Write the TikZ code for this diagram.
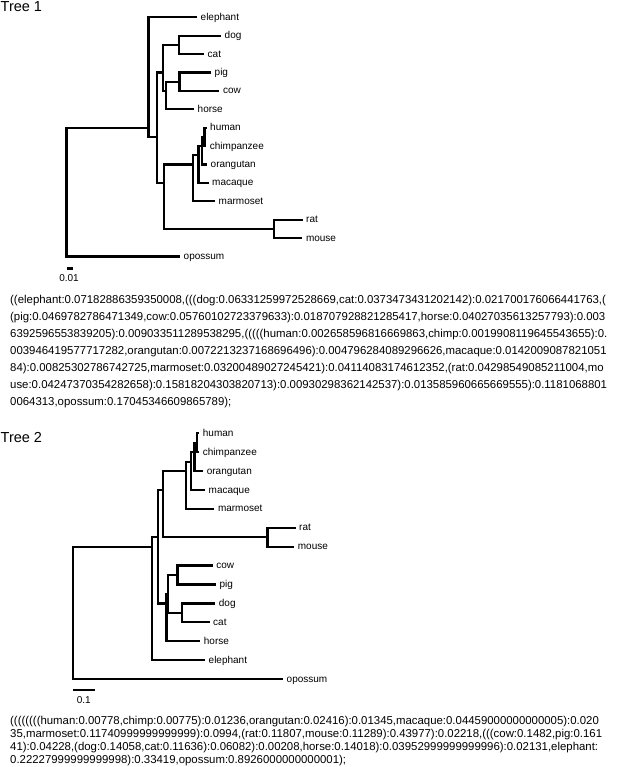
\documentclass[tikz,border=0pt]{standalone}
\usepackage{fontspec}
\setmainfont{Liberation Sans}
\begin{document}
\begin{tikzpicture}[x=1pt,y=-1pt,
  br/.style={line width=2.3pt, line join=miter},
  lab/.style={anchor=base west, inner sep=0pt, xshift=3.5pt, yshift=-3pt, font=\fontsize{10}{12}\selectfont},
  ttl/.style={anchor=base west, inner sep=0pt, font=\fontsize{14.5}{16}\selectfont},
  txt/.style={anchor=base west, inner sep=0pt, font=\fontsize{11.4}{13}\selectfont},
  sbar/.style={line width=2.3pt},
  slab/.style={anchor=base, inner sep=0pt, font=\fontsize{10}{12}\selectfont}]
\useasboundingbox (0,0) rectangle (617,767);
% ---------------- Tree 1 ----------------
\node[ttl] (title1) at (0.5,12) {Tree 1};
\coordinate (a0) at (66.5,136.9);
\coordinate (aX) at (148.4,127.7);
\coordinate (aY) at (157.3,136.9);
\coordinate (aLaur) at (163.3,72.5);
\coordinate (aDC) at (179.1,44.9);
\coordinate (aPCH) at (166,90.9);
\coordinate (aPC) at (179.5,81.7);
\coordinate (aEua) at (164.3,182.9);
\coordinate (aPri) at (192.9,164.5);
\coordinate (aPri2) at (198.4,155.3);
\coordinate (aApe) at (201.8,146.1);
\coordinate (aHC) at (204.5,136.9);
\coordinate (aRod) at (274.2,228.9);
\coordinate (aelephant) at (197,17.3);
\coordinate (adog) at (221,35.7);
\coordinate (acat) at (204,54.1);
\coordinate (apig) at (211,72.5);
\coordinate (acow) at (219.4,90.9);
\coordinate (ahorse) at (194,109.3);
\coordinate (ahuman) at (206.5,127.7);
\coordinate (achimp) at (206.2,146.1);
\coordinate (aorang) at (207,164.5);
\coordinate (amacaque) at (208.5,182.9);
\coordinate (amarmoset) at (215,201.3);
\coordinate (arat) at (302.5,219.7);
\coordinate (amouse) at (302.3,238.1);
\coordinate (aopossum) at (180,256.5);
\draw[br] (a0) |- (aX);
\draw[br] (a0) |- (aopossum);
\draw[br] (aX) |- (aelephant);
\draw[br] (aX) |- (aY);
\draw[br] (aY) |- (aLaur);
\draw[br] (aY) |- (aEua);
\draw[br] (aLaur) |- (aDC);
\draw[br] (aLaur) |- (aPCH);
\draw[br] (aDC) |- (adog);
\draw[br] (aDC) |- (acat);
\draw[br] (aPCH) |- (aPC);
\draw[br] (aPCH) |- (ahorse);
\draw[br] (aPC) |- (apig);
\draw[br] (aPC) |- (acow);
\draw[br] (aEua) |- (aPri);
\draw[br] (aEua) |- (aRod);
\draw[br] (aPri) |- (aPri2);
\draw[br] (aPri) |- (amarmoset);
\draw[br] (aPri2) |- (aApe);
\draw[br] (aPri2) |- (amacaque);
\draw[br] (aApe) |- (aHC);
\draw[br] (aApe) |- (aorang);
\draw[br] (aHC) |- (ahuman);
\draw[br] (aHC) |- (achimp);
\draw[br] (aRod) |- (arat);
\draw[br] (aRod) |- (amouse);
\node[lab] (la-elephant) at (aelephant) {elephant};
\node[lab] (la-dog) at (adog) {dog};
\node[lab] (la-cat) at (acat) {cat};
\node[lab] (la-pig) at (apig) {pig};
\node[lab] (la-cow) at (acow) {cow};
\node[lab] (la-horse) at (ahorse) {horse};
\node[lab] (la-human) at (ahuman) {human};
\node[lab] (la-chimp) at (achimp) {chimpanzee};
\node[lab] (la-orang) at (aorang) {orangutan};
\node[lab] (la-macaque) at (amacaque) {macaque};
\node[lab] (la-marmoset) at (amarmoset) {marmoset};
\node[lab] (la-rat) at (arat) {rat};
\node[lab] (la-mouse) at (amouse) {mouse};
\node[lab] (la-opossum) at (aopossum) {opossum};
\coordinate (asb1) at (66.5,268.5);
\coordinate (asb2) at (73.4,268.5);
\draw[sbar] (asb1) -- (asb2);
\node[slab] (asl) at (69,281) {0.01};
\node[txt] (ta1) at (10,303) {((elephant:0.07182886359350008,(((dog:0.06331259972528669,cat:0.0373473431202142):0.021700176066441763,(};
\node[txt] (ta2) at (10,320) {(pig:0.0469782786471349,cow:0.05760102723379633):0.018707928821285417,horse:0.04027035613257793):0.003};
\node[txt] (ta3) at (10,337) {6392596553839205):0.009033511289538295,(((((human:0.002658596816669863,chimp:0.0019908119645543655):0.};
\node[txt] (ta4) at (10,354) {003946419577717282,orangutan:0.0072213237168696496):0.004796284089296626,macaque:0.0142009087821051};
\node[txt] (ta5) at (10,371) {84):0.00825302786742725,marmoset:0.03200489027245421):0.04114083174612352,(rat:0.04298549085211004,mo};
\node[txt] (ta6) at (10,388) {use:0.04247370354282658):0.15818204303820713):0.00930298362142537):0.013585960665669555):0.1181068801};
\node[txt] (ta7) at (10,405) {0064313,opossum:0.17045346609865789);};
% ---------------- Tree 2 ----------------
\node[ttl] (title2) at (0.5,442) {Tree 2};
\coordinate (b0) at (72.8,555.85);
\coordinate (bX) at (152.3,546.7);
\coordinate (bY) at (158,537.25);
\coordinate (bEua) at (162.7,490);
\coordinate (bPri) at (186.3,471.1);
\coordinate (bPri2) at (191.2,461.65);
\coordinate (bApe) at (194.4,452.2);
\coordinate (bHC) at (197.3,442.75);
\coordinate (bRod) at (267.4,537.25);
\coordinate (bLaur) at (166.5,603.4);
\coordinate (bCPDC) at (167.8,594);
\coordinate (bCP) at (177.4,575.05);
\coordinate (bDC) at (181.8,612.85);
\coordinate (bhuman) at (199.2,433.3);
\coordinate (bchimp) at (199.2,452.2);
\coordinate (borang) at (203.1,471.1);
\coordinate (bmacaque) at (205,490);
\coordinate (bmarmoset) at (214.3,508.9);
\coordinate (brat) at (295.5,527.8);
\coordinate (bmouse) at (294.2,546.7);
\coordinate (bcow) at (212.6,565.6);
\coordinate (bpig) at (215.8,584.5);
\coordinate (bdog) at (215.2,603.4);
\coordinate (bcat) at (209.5,622.3);
\coordinate (bhorse) at (200.2,641.2);
\coordinate (belephant) at (205,660.1);
\coordinate (bopossum) at (283,679);
\draw[br] (b0) |- (bX);
\draw[br] (b0) |- (bopossum);
\draw[br] (bX) |- (bY);
\draw[br] (bX) |- (belephant);
\draw[br] (bY) |- (bEua);
\draw[br] (bY) |- (bLaur);
\draw[br] (bEua) |- (bPri);
\draw[br] (bEua) |- (bRod);
\draw[br] (bPri) |- (bPri2);
\draw[br] (bPri) |- (bmarmoset);
\draw[br] (bPri2) |- (bApe);
\draw[br] (bPri2) |- (bmacaque);
\draw[br] (bApe) |- (bHC);
\draw[br] (bApe) |- (borang);
\draw[br] (bHC) |- (bhuman);
\draw[br] (bHC) |- (bchimp);
\draw[br] (bRod) |- (brat);
\draw[br] (bRod) |- (bmouse);
\draw[br] (bLaur) |- (bCPDC);
\draw[br] (bLaur) |- (bhorse);
\draw[br] (bCPDC) |- (bCP);
\draw[br] (bCPDC) |- (bDC);
\draw[br] (bCP) |- (bcow);
\draw[br] (bCP) |- (bpig);
\draw[br] (bDC) |- (bdog);
\draw[br] (bDC) |- (bcat);
\node[lab] (lb-human) at (bhuman) {human};
\node[lab] (lb-chimp) at (bchimp) {chimpanzee};
\node[lab] (lb-orang) at (borang) {orangutan};
\node[lab] (lb-macaque) at (bmacaque) {macaque};
\node[lab] (lb-marmoset) at (bmarmoset) {marmoset};
\node[lab] (lb-rat) at (brat) {rat};
\node[lab] (lb-mouse) at (bmouse) {mouse};
\node[lab] (lb-cow) at (bcow) {cow};
\node[lab] (lb-pig) at (bpig) {pig};
\node[lab] (lb-dog) at (bdog) {dog};
\node[lab] (lb-cat) at (bcat) {cat};
\node[lab] (lb-horse) at (bhorse) {horse};
\node[lab] (lb-elephant) at (belephant) {elephant};
\node[lab] (lb-opossum) at (bopossum) {opossum};
\coordinate (bsb1) at (72.8,690);
\coordinate (bsb2) at (94.8,690);
\draw[sbar] (bsb1) -- (bsb2);
\node[slab] (bsl) at (83.8,703) {0.1};
\node[txt] (tb1) at (10,724) {((((((((human:0.00778,chimp:0.00775):0.01236,orangutan:0.02416):0.01345,macaque:0.04459000000000005):0.020};
\node[txt] (tb2) at (10,737.3) {35,marmoset:0.11740999999999999):0.0994,(rat:0.11807,mouse:0.11289):0.43977):0.02218,(((cow:0.1482,pig:0.161};
\node[txt] (tb3) at (10,750.6) {41):0.04228,(dog:0.14058,cat:0.11636):0.06082):0.00208,horse:0.14018):0.03952999999999996):0.02131,elephant:};
\node[txt] (tb4) at (10,763.9) {0.22227999999999998):0.33419,opossum:0.8926000000000001);};
\end{tikzpicture}
\end{document}
